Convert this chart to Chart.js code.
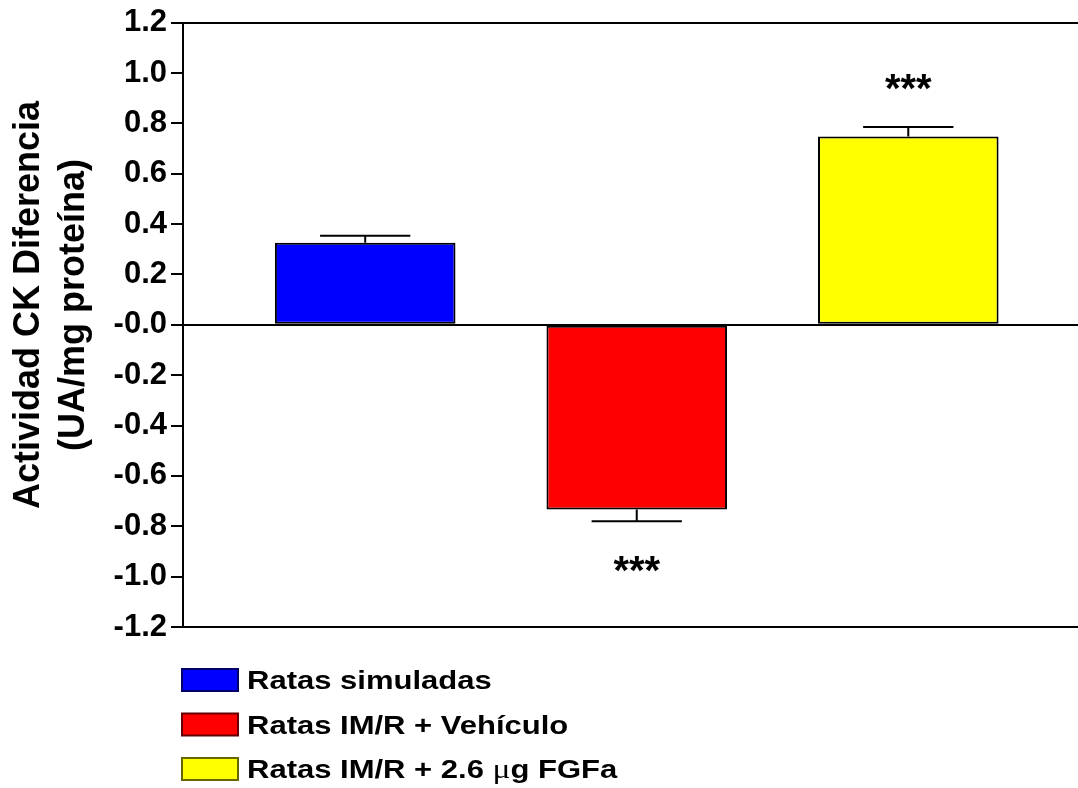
<!DOCTYPE html>
<html>
<head>
<meta charset="utf-8">
<script src="https://cdn.jsdelivr.net/npm/chart.js@4/dist/chart.umd.min.js"></script>
<style>
  html, body { margin: 0; padding: 0; background: #fff; }
  #wrap { width: 1078px; height: 788px; position: relative; }
</style>
</head>
<body>
<div id="wrap"><canvas id="ckChart"></canvas></div>
<script>
// data
const categories = ['Ratas simuladas', 'Ratas IM/R + Vehículo', 'Ratas IM/R + 2.6 μg FGFa'];
const values = [0.326, -0.733, 0.748];
const errors = [0.028, 0.047, 0.037];
const stars = ['', '***', '***'];
const barColors = ['#0000ff', '#ff0000', '#ffff00'];
const legendBorders = ['#000066', '#660000', '#666600'];
const yTitle = ['Actividad CK Diferencia', '(UA/mg proteína)'];
const xPos = [1, 2, 3];

const FONT = 'Arial, "Liberation Sans", sans-serif';
const SERIF = '"Times New Roman", "Liberation Serif", serif';

const errorBarPlugin = {
  id: 'errorBars',
  afterDatasetsDraw(chart) {
    const ctx = chart.ctx;
    const y = chart.scales.y;
    const meta = chart.getDatasetMeta(0);
    ctx.save();
    ctx.strokeStyle = '#000';
    ctx.lineWidth = 2;
    meta.data.forEach((bar, i) => {
      const dir = values[i] < 0 ? -1 : 1;
      const tip = y.getPixelForValue(values[i] + dir * errors[i]);
      const half = bar.width / 4;
      ctx.beginPath();
      ctx.moveTo(bar.x, bar.y);
      ctx.lineTo(bar.x, tip);
      ctx.moveTo(bar.x - half, tip);
      ctx.lineTo(bar.x + half, tip);
      ctx.stroke();
      if (stars[i]) {
        ctx.fillStyle = '#000';
        ctx.font = 'bold 40px ' + FONT;
        ctx.textAlign = 'center';
        ctx.textBaseline = 'middle';
        ctx.fillText(stars[i], bar.x, tip - dir * 44 + 8);
      }
    });
    ctx.restore();
  }
};

// draws a legend label, the Greek mu in a serif face like the original
function drawLabel(ctx, text, x, y) {
  const parts = text.split('μ');
  let cx = x;
  parts.forEach((p, k) => {
    ctx.font = 'bold 25px ' + FONT;
    ctx.fillText(p, cx, y);
    cx += ctx.measureText(p).width;
    if (k < parts.length - 1) {
      ctx.font = '27px ' + SERIF;
      ctx.fillText('μ', cx, y);
      cx += ctx.measureText('μ').width;
    }
  });
}

const titleLegendPlugin = {
  id: 'titleLegend',
  afterDraw(chart) {
    const ctx = chart.ctx;
    ctx.save();
    ctx.fillStyle = '#000';
    // rotated y title
    ctx.font = 'bold 36px ' + FONT;
    ctx.textAlign = 'center';
    ctx.textBaseline = 'alphabetic';
    yTitle.forEach((line, i) => {
      ctx.save();
      ctx.translate(39 + i * 45, 305);
      ctx.rotate(-Math.PI / 2);
      ctx.fillText(line, 0, 0);
      ctx.restore();
    });
    // legend
    ctx.textAlign = 'left';
    categories.forEach((name, i) => {
      const top = 669 + i * 44.5;
      ctx.fillStyle = barColors[i];
      ctx.fillRect(182, top, 56, 22);
      ctx.strokeStyle = legendBorders[i];
      ctx.lineWidth = 2;
      ctx.strokeRect(182, top, 56, 22);
      ctx.fillStyle = '#000';
      ctx.save();
      ctx.translate(247, top + 20);
      ctx.scale(1.24, 1);
      drawLabel(ctx, name, 0, 0);
      ctx.restore();
    });
    ctx.restore();
  }
};

new Chart(document.getElementById('ckChart'), {
  type: 'bar',
  data: {
    datasets: [{
      data: xPos.map((x, i) => ({ x: x, y: values[i] })),
      backgroundColor: barColors,
      borderColor: '#000',
      borderWidth: 2,
      borderSkipped: false,
      barPercentage: 0.665,
      categoryPercentage: 1
    }]
  },
  options: {
    responsive: true,
    maintainAspectRatio: false,
    animation: false,
    layout: { padding: { top: 22, bottom: 161, left: 0, right: 0 } },
    plugins: {
      legend: { display: false },
      tooltip: { enabled: false }
    },
    scales: {
      x: {
        type: 'linear',
        display: false,
        offset: false,
        min: 0.329,
        max: 3.625,
        afterBuildTicks: s => { s.ticks = xPos.map(v => ({ value: v })); }
      },
      y: {
        min: -1.2,
        max: 1.2,
        afterFit: s => { s.width = 183; },
        border: { display: true, color: '#000', width: 2 },
        grid: {
          drawOnChartArea: true,
          drawTicks: true,
          tickLength: 12,
          tickColor: '#000',
          lineWidth: 2,
          color: c => {
            const v = Math.round(c.tick.value * 10);
            return (v === 0 || Math.abs(v) === 12) ? '#000' : 'rgba(0,0,0,0)';
          }
        },
        ticks: {
          stepSize: 0.2,
          padding: 4,
          color: '#000',
          font: { family: FONT, size: 31, weight: 'bold' },
          callback: v => {
            const r = Math.round(v * 10) / 10;
            return r === 0 ? '-0.0' : r.toFixed(1);
          }
        }
      }
    }
  },
  plugins: [errorBarPlugin, titleLegendPlugin]
});
</script>
</body>
</html>
